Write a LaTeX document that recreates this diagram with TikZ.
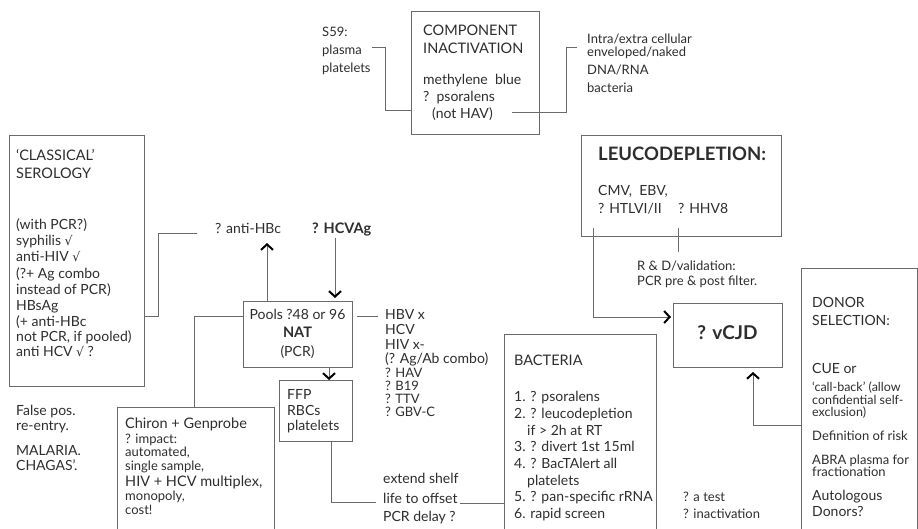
\documentclass[tikz,border=0pt]{standalone}
\usepackage{fontspec}
\setmainfont{Lato}
\newfontfamily\symf{DejaVu Sans}
\usetikzlibrary{arrows.meta,calc}
\definecolor{ink}{HTML}{2E2E2E}
\definecolor{rule}{HTML}{6A6A6A}
\newcommand{\chk}{{\symf\fontsize{12.5}{14}\selectfont √}}
\begin{document}
\begin{tikzpicture}[x=1pt,y=-1pt,
  box/.style={draw=rule,line width=0.9pt,anchor=north west,inner sep=0pt},
  txt/.style={anchor=west,inner sep=0pt,text height=0.7em,text depth=0pt,text=ink,font=\fontsize{14}{16}\selectfont},
  sm/.style={font=\fontsize{13}{15}\selectfont},
  xs/.style={font=\fontsize{12.5}{14}\selectfont},
  bfm/.style={font=\fontsize{14.5}{17}\selectfont\bfseries},
  con/.style={draw=rule,line width=0.8pt},
  arr/.style={con,-{Straight Barb[length=5.5pt,width=12pt,line width=2pt,color=black]}}
]
\useasboundingbox (0,0) rectangle (918,528);
\clip (0,0) rectangle (918,528);
\fill[white] (0,0) rectangle (918,528);

% boxes
\node[box,minimum width=128pt,minimum height=123pt] (comp) at (411,11) {};
\node[box,minimum width=135pt,minimum height=251pt] (cls) at (9,135) {};
\node[box,minimum width=200pt,minimum height=101pt] (leu) at (581,135) {};
\node[box,minimum width=109pt,minimum height=66pt] (nat) at (243,301) {};
\node[box,minimum width=73pt,minimum height=61pt] (ffp) at (279,380) {};
\node[box,minimum width=109pt,minimum height=64pt] (cjd) at (673,303) {};
\node[box,minimum width=157pt,minimum height=135pt] (chi) at (117,407) {};
\node[box,minimum width=152pt,minimum height=210pt] (bac) at (504,334) {};
\node[box,minimum width=116pt,minimum height=280pt] (don) at (801,268) {};

% component inactivation
\node[txt,font=\fontsize{14.5}{16}\selectfont] (c1) at (423,32) {COMPONENT};
\node[txt,font=\fontsize{14.5}{16}\selectfont] (c2) at (423,50) {INACTIVATION};
\node[txt] (c3) at (423,81) {methylene\ \ blue};
\node[txt] (c4) at (423,98) {?\ \ psoralens};
\node[txt] (c5) at (432,115) {(not HAV)};
\node[txt,sm] (s1) at (322,33) {S59:};
\node[txt,sm] (s2) at (322,51) {plasma};
\node[txt,sm] (s3) at (322,69) {platelets};
\node[txt,sm] (i1) at (587,40) {Intra/extra cellular};
\node[txt,sm] (i2) at (587,53) {enveloped/naked};
\node[txt,sm] (i3) at (587,71) {DNA/RNA};
\node[txt,sm] (i4) at (587,89) {bacteria};

% classical serology
\node[txt,font=\fontsize{14.5}{16}\selectfont] (k1) at (16,157) {`CLASSICAL'};
\node[txt,font=\fontsize{14.5}{16}\selectfont] (k2) at (16,175) {SEROLOGY};
\node[txt] (k3) at (16,226) {(with PCR?)};
\node[txt] (k4) at (16,242) {syphilis \chk};
\node[txt] (k5) at (16,258) {anti-HIV \chk};
\node[txt] (k6) at (16,275) {(?+ Ag combo};
\node[txt] (k7) at (16,291) {instead of PCR)};
\node[txt] (k8) at (16,307) {HBsAg};
\node[txt] (k9) at (16,323) {(+ anti-HBc};
\node[txt] (k10) at (16,338) {not PCR, if pooled)};
\node[txt] (k11) at (16,353) {anti HCV \chk\ ?};
\node[txt] (f1) at (16,412) {False pos.};
\node[txt] (f2) at (16,427) {re-entry.};
\node[txt] (f3) at (16,452) {MALARIA.};
\node[txt] (f4) at (16,467) {CHAGAS'.};

% NAT area
\node[txt] (hbc) at (215,230) {? anti-HBc};
\node[txt,bfm] (hcv) at (312,230) {? HCVAg};
\node[txt,anchor=center] (n1) at (297.5,316) {Pools ?48 or 96};
\node[txt,bfm,anchor=center] (n2) at (297.5,334) {NAT};
\node[txt,anchor=center] (n3) at (297.5,353) {(PCR)};
\node[txt] (v1) at (385,316) {HBV x};
\node[txt] (v2) at (385,331) {HCV};
\node[txt] (v3) at (385,346) {HIV x-};
\node[txt] (v4) at (385,360) {(? Ag/Ab combo)};
\node[txt,sm] (v5) at (385,374) {? HAV};
\node[txt,sm] (v6) at (385,387) {? B19};
\node[txt,sm] (v7) at (385,400) {? TTV};
\node[txt,sm] (v8) at (385,413) {? GBV-C};
\node[txt] (p1) at (287,396) {FFP};
\node[txt] (p2) at (287,412) {RBCs};
\node[txt] (p3) at (287,427) {platelets};

% Chiron
\node[txt,font=\fontsize{14.5}{16}\selectfont] (h1) at (125,425) {Chiron + Genprobe};
\node[txt,sm] (h2) at (125,440) {? impact:};
\node[txt,sm] (h3) at (125,453) {automated,};
\node[txt,sm] (h4) at (125,467) {single sample,};
\node[txt,font=\fontsize{14.5}{16}\selectfont] (h5) at (125,483) {HIV + HCV multiplex,};
\node[txt,sm] (h6) at (125,497) {monopoly,};
\node[txt,sm] (h7) at (125,511) {cost!};

% shelf life
\node[txt] (e1) at (383,480) {extend shelf};
\node[txt] (e2) at (383,500) {life to offset};
\node[txt] (e3) at (383,518) {PCR delay ?};

% bacteria
\node[txt,font=\fontsize{14.5}{16}\selectfont] (b0) at (514,362) {BACTERIA};
\node[txt] (b1) at (514,398) {1. ? psoralens};
\node[txt] (b2) at (514,415) {2. ? leucodepletion};
\node[txt] (b3) at (527,432) {if > 2h at RT};
\node[txt] (b4) at (514,448) {3. ? divert 1st 15ml};
\node[txt] (b5) at (514,465) {4. ? BacTAlert all};
\node[txt] (b6) at (527,482) {platelets};
\node[txt] (b7) at (514,498) {5. ? pan-specific rRNA};
\node[txt] (b8) at (514,515) {6. rapid screen};

% leucodepletion
\node[txt,font=\fontsize{18.5}{21}\selectfont\bfseries] (l0) at (598,157) {LEUCODEPLETION:};
\node[txt] (l1) at (598,192) {CMV,\ \ EBV,};
\node[txt] (l2) at (598,210) {? HTLVI/II};
\node[txt] (l3) at (678,210) {? HHV8};
\node[txt,sm] (r1) at (637,267) {R \& D/validation:};
\node[txt,sm] (r2) at (637,282) {PCR pre \& post filter.};
\node[txt,anchor=center,font=\fontsize{19}{22}\selectfont\bfseries] (cj) at (727.5,336) {? vCJD};

% donor
\node[txt] (d1) at (812,304) {DONOR};
\node[txt] (d2) at (812,322) {SELECTION:};
\node[txt] (d3) at (812,370) {CUE or};
\node[txt,xs] (d4) at (812,388) {`call-back' (allow};
\node[txt,xs] (d5) at (812,401) {confidential self-};
\node[txt,xs] (d6) at (812,413) {exclusion)};
\node[txt,sm] (d7) at (812,437) {Definition of risk};
\node[txt,sm] (d8) at (812,461) {ABRA plasma for};
\node[txt,sm] (d9) at (812,473) {fractionation};
\node[txt] (d10) at (812,497) {Autologous};
\node[txt] (d11) at (812,513) {Donors?};
\node[txt,sm] (t1) at (683,498) {? a test};
\node[txt,sm] (t2) at (683,515) {? inactivation};

% connectors
\coordinate (q1) at (372,47);
\draw[con] (q1) -- (385,47) |- (comp.west |- 0,110);
\coordinate (q2) at (512,112);
\coordinate (q3) at (577,47);
\draw[con] (q2) -- (566,112) |- (q3);
\coordinate (q4) at (197,233);
\draw[con] (q4) -- (158,233) |- (cls.east |- 0,316);
\draw[arr] ([xshift=24pt]nat.north west) -- ++(0,-58);
\draw[arr,shorten >=3pt] ([xshift=92pt]nat.north west |- hcv.south) ++(0,4) -- ([xshift=92pt]nat.north west);
\draw[con] ([xshift=77pt]chi.north west) |- (nat.west |- n1);
\coordinate (q5) at (357,316);
\draw[con] (q5) -- (v1.west -| 378,0);
\draw[arr] ([xshift=86pt]nat.south west) -- ([xshift=50pt]ffp.north west);
\coordinate (q6) at (376,502);
\draw[con] ([xshift=52pt]ffp.south west) |- (q6);
\coordinate (q7) at (460,503);
\draw[con] (q7) -- (bac.west |- q7);
\draw[arr,shorten >=2pt] ([xshift=12pt,yshift=9pt]leu.south west) |- (cjd.west |- 0,317);
\coordinate (q8) at (678,252);
\draw[con] ([xshift=97pt,yshift=9pt]leu.south west) -- (q8);
\draw[arr,shorten >=4pt] (don.west |- 0,425) -| ([xshift=80pt]cjd.south west);
\end{tikzpicture}
\end{document}
